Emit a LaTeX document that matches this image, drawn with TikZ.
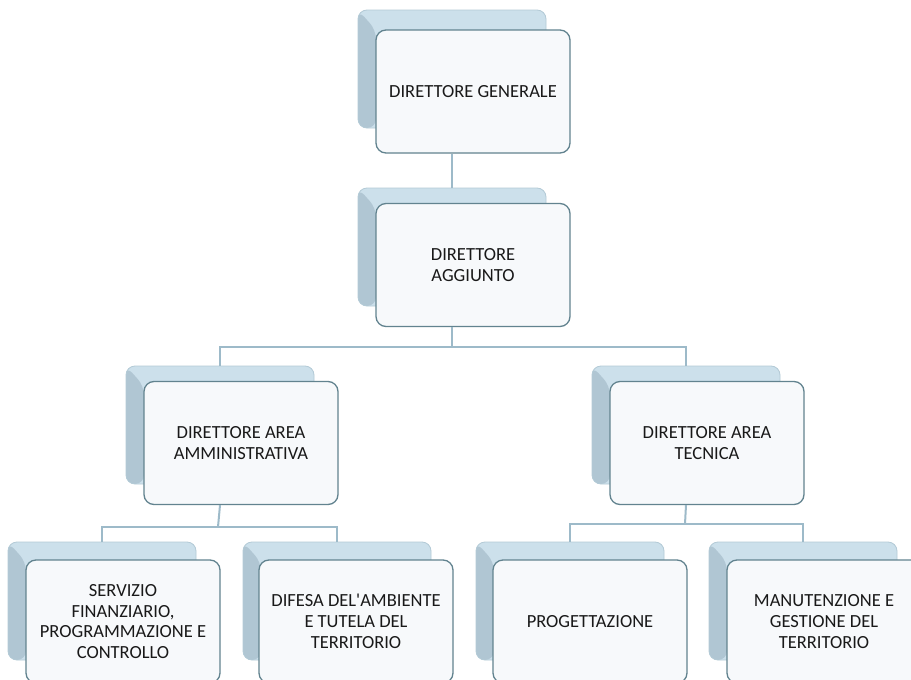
\documentclass[tikz,border=0pt]{standalone}
\usepackage{fontspec}
\setmainfont{Carlito}
\definecolor{backfill}{HTML}{CCE0EB}
\definecolor{backline}{HTML}{B3CAD6}
\definecolor{bevelcol}{HTML}{B0C6D3}
\definecolor{frontfill}{HTML}{F7F9FB}
\definecolor{frontline}{HTML}{62838F}
\definecolor{conncol}{HTML}{9DBAC9}
\begin{document}
\begin{tikzpicture}[x=1pt,y=-1pt,
  backbox/.style={draw=backline, line width=0.8pt, fill=backfill, rounded corners=9pt,
    minimum width=188pt, minimum height=118pt, inner sep=0pt,
    path picture={\fill[bevelcol] (path picture bounding box.north west) -- ++(18pt,-20pt) |- (path picture bounding box.south west) -- cycle;}},
  frontbox/.style={draw=frontline, line width=1.3pt, fill=frontfill, rounded corners=10pt,
    minimum width=194pt, minimum height=123pt, inner sep=2pt, align=center,
    font=\fontsize{18.5}{20.8}\selectfont, text=black!90},
  conn/.style={draw=conncol, line width=2pt}]
\useasboundingbox (0,0) rectangle (911,680);
\clip (0,0) rectangle (911,680);
\fill[white] (0,0) rectangle (911,680);

% back boxes
\node[backbox] (dgb)  at (452,69)  {};
\node[backbox] (dab)  at (452,247) {};
\node[backbox] (aab)  at (220,425) {};
\node[backbox] (atb)  at (686,425) {};
\node[backbox] (sfb)  at (102,601) {};
\node[backbox] (dfb)  at (337,601) {};
\node[backbox] (prb)  at (570,601) {};
\node[backbox] (mgb)  at (803,601) {};

% front boxes
\node[frontbox] (dg) at (473,91.5)  {DIRETTORE GENERALE};
\node[frontbox] (da) at (473,265)   {DIRETTORE\\AGGIUNTO};
\node[frontbox] (aa) at (241,443)   {DIRETTORE AREA\\AMMINISTRATIVA};
\node[frontbox] (at) at (707,443)   {DIRETTORE AREA\\TECNICA};
\node[frontbox] (sf) at (123,621.5) {SERVIZIO\\FINANZIARIO,\\PROGRAMMAZIONE E\\CONTROLLO};
\node[frontbox] (df) at (356,621.5) {DIFESA DEL\textquotesingle AMBIENTE\\E TUTELA DEL\\TERRITORIO};
\node[frontbox] (pr) at (590,621.5) {PROGETTAZIONE};
\node[frontbox] (mg) at (824,621.5) {MANUTENZIONE E\\GESTIONE DEL\\TERRITORIO};

% connectors
\coordinate (j1) at (452,347);
\coordinate (j2) at (218,527);
\coordinate (j3) at (685,524);
\draw[conn] (dgb.center |- dg.south) -- (dab.north);
\draw[conn] (dab.center |- da.south) -- (j1);
\draw[conn] (aab.north) -- (aab.north |- j1) -- (atb.north |- j1) -- (atb.north);
\draw[conn] (aab.center |- aa.south) -- (j2);
\draw[conn] (sfb.north) -- (sfb.north |- j2) -- (dfb.north |- j2) -- (dfb.north);
\draw[conn] (atb.center |- at.south) -- (j3);
\draw[conn] (prb.north) -- (prb.north |- j3) -- (mgb.north |- j3) -- (mgb.north);
\end{tikzpicture}
\end{document}
